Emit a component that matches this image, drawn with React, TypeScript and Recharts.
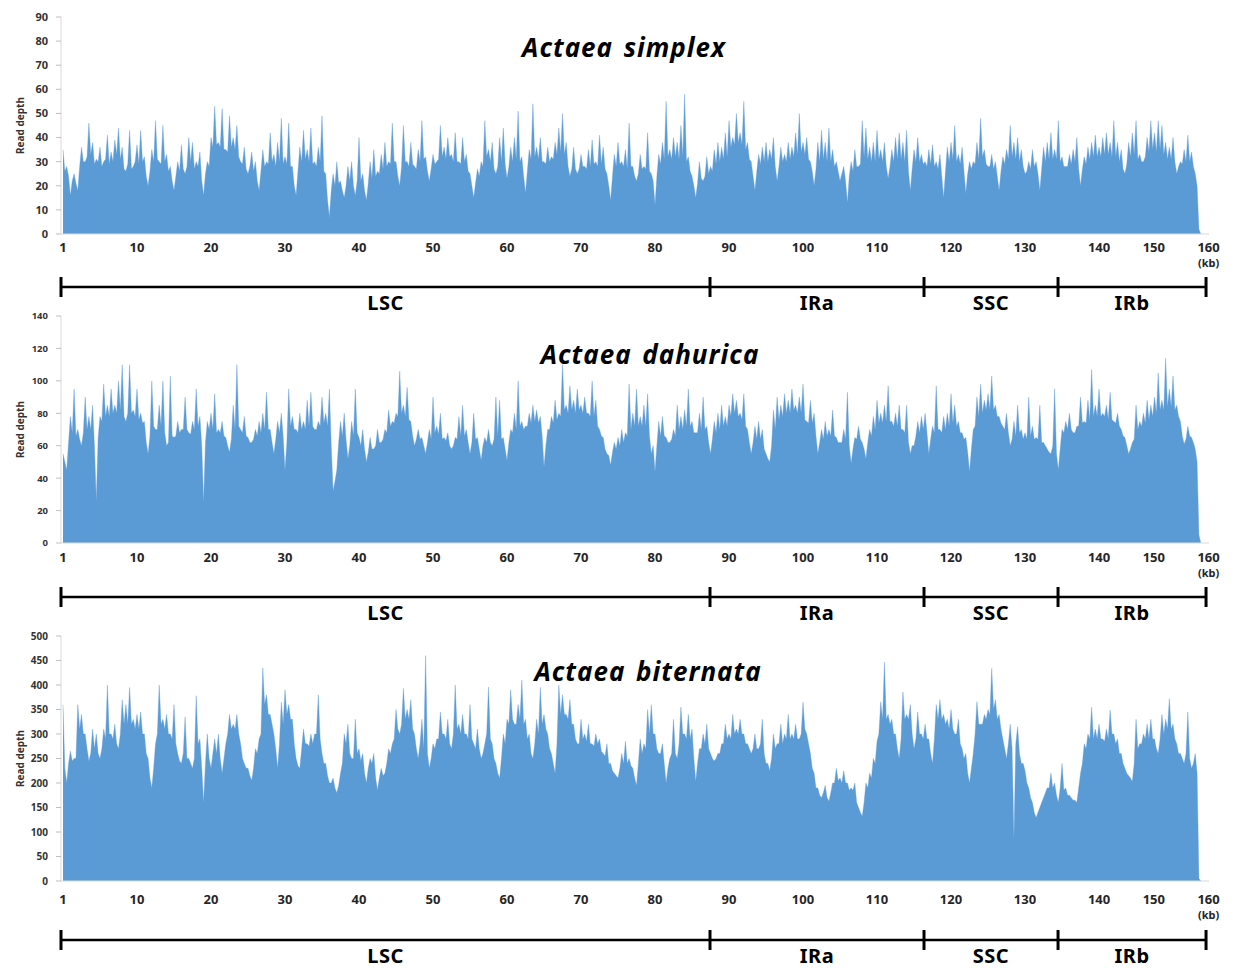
import React from "react";
import {
  AreaChart,
  Area,
  XAxis,
  YAxis,
  ComposedChart,
  Line,
  ReferenceLine,
  Scatter,
} from "recharts";

// ---- data: read depth every 0.25 axis unit ----
const STEP = 0.25;

const simplexDepth = [
  35, 26, 28, 24, 16, 22, 25, 21, 18, 28, 36, 30, 30, 32, 46, 33, 38, 29, 31, 30, 36, 28, 30, 31, 41, 29, 34, 30, 39, 33, 44, 31, 36, 27, 26, 29, 43, 27, 28, 30,
  37, 29, 43, 30, 32, 24, 20, 26, 35, 30, 47, 31, 30, 29, 45, 30, 33, 26, 28, 22, 18, 24, 30, 26, 37, 27, 25, 28, 40, 30, 38, 27, 30, 28, 34, 22, 16, 25, 30, 28,
  40, 36, 53, 37, 38, 36, 52, 35, 35, 34, 49, 36, 40, 35, 45, 32, 30, 29, 36, 27, 25, 28, 34, 26, 30, 22, 18, 26, 35, 28, 30, 29, 42, 30, 33, 28, 38, 30, 48, 29,
  32, 29, 46, 28, 28, 20, 16, 26, 36, 30, 43, 31, 35, 30, 44, 29, 30, 28, 36, 30, 49, 26, 25, 14, 7, 18, 25, 20, 30, 21, 22, 18, 15, 20, 28, 22, 30, 20, 16, 22,
  40, 22, 25, 18, 14, 21, 30, 23, 35, 24, 26, 25, 33, 27, 38, 28, 30, 29, 46, 30, 30, 24, 20, 28, 45, 30, 30, 28, 38, 29, 28, 27, 35, 30, 47, 31, 32, 26, 22, 27,
  33, 29, 30, 31, 45, 32, 36, 31, 40, 32, 33, 30, 42, 30, 30, 29, 40, 30, 33, 26, 25, 20, 15, 21, 27, 24, 30, 28, 47, 32, 35, 30, 38, 27, 25, 28, 40, 30, 44, 29,
  23, 28, 36, 30, 40, 31, 51, 30, 32, 24, 17, 26, 35, 31, 54, 32, 36, 31, 40, 30, 30, 29, 36, 30, 32, 31, 38, 33, 44, 34, 50, 33, 38, 28, 24, 27, 36, 27, 25, 27,
  33, 28, 28, 27, 35, 28, 39, 29, 30, 28, 41, 29, 36, 27, 25, 20, 14, 24, 33, 28, 38, 29, 30, 28, 35, 27, 46, 28, 28, 24, 22, 25, 33, 27, 28, 27, 42, 26, 25, 22,
  12, 24, 33, 29, 38, 31, 55, 32, 35, 31, 40, 32, 38, 31, 45, 32, 58, 30, 32, 26, 24, 20, 15, 21, 30, 23, 22, 24, 32, 25, 28, 26, 35, 29, 38, 30, 36, 31, 42, 32,
  47, 36, 40, 37, 50, 38, 42, 37, 55, 35, 38, 31, 30, 24, 18, 26, 33, 29, 36, 30, 38, 30, 35, 31, 40, 28, 22, 28, 36, 30, 33, 30, 38, 31, 36, 32, 42, 33, 50, 34,
  38, 33, 40, 31, 30, 26, 20, 27, 38, 30, 43, 31, 38, 30, 44, 30, 35, 28, 30, 26, 22, 25, 28, 22, 13, 24, 30, 26, 35, 28, 28, 29, 47, 32, 44, 31, 36, 30, 38, 30,
  43, 31, 35, 30, 38, 28, 23, 28, 35, 30, 40, 31, 42, 31, 38, 30, 43, 26, 18, 27, 35, 30, 40, 30, 33, 29, 30, 28, 35, 29, 37, 28, 30, 27, 33, 24, 15, 26, 36, 30,
  38, 31, 45, 30, 33, 29, 36, 26, 17, 25, 30, 27, 30, 29, 38, 31, 48, 32, 35, 29, 28, 28, 33, 27, 30, 24, 18, 26, 32, 29, 35, 31, 45, 32, 38, 31, 40, 30, 35, 28,
  25, 26, 30, 27, 35, 28, 30, 25, 18, 27, 36, 30, 38, 31, 42, 31, 35, 31, 47, 30, 32, 28, 28, 28, 33, 29, 35, 30, 40, 27, 20, 27, 32, 29, 36, 31, 38, 32, 41, 32,
  36, 32, 40, 33, 42, 33, 38, 32, 47, 32, 38, 30, 35, 27, 25, 29, 38, 32, 42, 33, 47, 31, 33, 30, 30, 32, 40, 34, 47, 35, 42, 34, 47, 35, 45, 33, 38, 31, 36, 31,
  40, 30, 25, 28, 30, 29, 35, 30, 41, 30, 34, 28, 25, 20, 2, 0,
];

const dahuricaDepth = [
  55, 50, 45, 62, 78, 68, 95, 66, 70, 64, 60, 68, 90, 70, 78, 70, 85, 60, 26, 65, 78, 75, 98, 78, 85, 78, 95, 80, 85, 80, 100, 82, 110, 78, 75, 80, 110, 80, 82, 78,
  95, 76, 80, 74, 75, 62, 55, 66, 100, 72, 70, 70, 85, 72, 100, 68, 60, 62, 103, 66, 65, 66, 75, 68, 70, 70, 90, 70, 68, 67, 75, 70, 95, 72, 78, 60, 25, 62, 75, 70,
  80, 70, 92, 68, 70, 68, 75, 66, 65, 60, 56, 64, 85, 70, 110, 72, 70, 68, 78, 66, 65, 62, 62, 64, 70, 66, 75, 68, 80, 70, 93, 70, 70, 62, 55, 64, 75, 68, 80, 66,
  45, 62, 95, 72, 78, 70, 70, 68, 80, 70, 75, 70, 88, 72, 93, 72, 70, 70, 75, 72, 90, 74, 80, 72, 95, 60, 32, 38, 45, 62, 75, 66, 80, 64, 52, 60, 75, 66, 95, 68,
  65, 60, 70, 58, 50, 56, 65, 58, 58, 60, 70, 62, 62, 64, 70, 68, 82, 72, 75, 74, 80, 78, 106, 80, 85, 78, 96, 76, 75, 66, 60, 64, 70, 64, 65, 60, 55, 62, 70, 64,
  90, 68, 72, 67, 80, 64, 65, 63, 68, 60, 58, 60, 65, 64, 78, 66, 85, 66, 70, 62, 55, 62, 80, 64, 65, 58, 51, 60, 65, 62, 70, 62, 60, 64, 90, 66, 88, 64, 65, 58,
  51, 62, 70, 68, 80, 70, 100, 72, 75, 70, 72, 72, 80, 74, 85, 75, 82, 74, 78, 66, 47, 60, 70, 70, 78, 74, 88, 76, 80, 78, 110, 82, 85, 80, 97, 82, 88, 80, 95, 82,
  85, 80, 90, 80, 80, 78, 100, 78, 88, 72, 70, 66, 65, 58, 55, 54, 48, 56, 62, 58, 65, 60, 70, 62, 68, 66, 98, 70, 80, 72, 95, 72, 78, 72, 85, 72, 92, 66, 55, 60,
  44, 60, 75, 66, 78, 66, 65, 62, 62, 64, 70, 66, 85, 70, 78, 70, 82, 72, 95, 72, 75, 68, 68, 68, 80, 70, 90, 70, 72, 62, 55, 64, 75, 68, 80, 70, 85, 72, 78, 72,
  85, 78, 92, 80, 88, 78, 80, 76, 92, 72, 70, 62, 55, 62, 72, 64, 75, 64, 70, 58, 55, 52, 50, 60, 82, 70, 90, 76, 85, 78, 92, 80, 88, 80, 95, 82, 85, 80, 90, 80,
  98, 76, 75, 74, 88, 74, 80, 66, 55, 62, 70, 64, 75, 66, 70, 66, 82, 66, 65, 62, 62, 62, 70, 64, 93, 60, 49, 58, 65, 64, 72, 64, 62, 58, 52, 62, 70, 66, 78, 70,
  88, 74, 80, 74, 85, 75, 97, 75, 75, 72, 80, 72, 85, 70, 70, 68, 85, 62, 55, 60, 60, 66, 75, 68, 78, 70, 80, 68, 55, 64, 72, 68, 97, 70, 70, 68, 78, 70, 80, 72,
  92, 74, 85, 72, 75, 68, 68, 64, 65, 56, 44, 58, 70, 72, 90, 78, 98, 80, 88, 82, 92, 82, 103, 82, 85, 78, 78, 74, 72, 70, 80, 68, 60, 64, 75, 66, 85, 68, 70, 64,
  68, 64, 90, 66, 72, 64, 65, 64, 85, 62, 62, 60, 58, 56, 55, 60, 95, 55, 45, 58, 70, 68, 75, 70, 80, 70, 68, 68, 72, 72, 90, 74, 75, 74, 88, 76, 107, 78, 85, 78,
  95, 78, 80, 78, 85, 76, 93, 76, 75, 74, 80, 72, 70, 66, 65, 60, 55, 58, 62, 64, 85, 70, 75, 72, 80, 74, 88, 76, 85, 78, 90, 80, 105, 82, 88, 82, 114, 84, 95, 84,
  103, 82, 85, 78, 75, 66, 61, 64, 72, 66, 65, 62, 58, 50, 5, 0,
];

const biternataDepth = [
  360, 230, 200, 240, 265, 245, 250, 250, 360, 310, 340, 300, 300, 270, 245, 260, 310, 270, 300, 260, 250, 270, 310, 290, 400, 300, 300, 290, 320, 280, 270, 300, 370, 320, 360, 320, 395, 320, 330, 310,
  340, 310, 345, 300, 300, 260, 250, 210, 190, 230, 280, 300, 400, 320, 330, 310, 340, 300, 300, 290, 360, 280, 260, 245, 240, 260, 335, 250, 250, 240, 230, 250, 378, 280, 290, 230, 160, 240, 300, 250,
  230, 260, 290, 260, 300, 250, 220, 250, 280, 300, 340, 310, 320, 310, 340, 300, 280, 250, 240, 230, 230, 215, 205, 230, 270, 260, 290, 300, 435, 360, 380, 340, 340, 320, 300, 270, 230, 280, 365, 320,
  390, 340, 360, 330, 330, 280, 250, 235, 230, 270, 310, 280, 280, 275, 300, 280, 300, 300, 380, 290, 260, 240, 240, 215, 200, 200, 210, 190, 180, 195, 220, 240, 300, 280, 320, 260, 250, 250, 330, 260,
  270, 245, 260, 220, 200, 230, 250, 240, 260, 210, 185, 210, 230, 215, 220, 240, 270, 260, 280, 290, 350, 310, 300, 320, 393, 330, 350, 330, 370, 310, 300, 270, 250, 280, 330, 270, 460, 260, 230, 250,
  280, 270, 290, 290, 345, 300, 300, 290, 330, 280, 270, 300, 400, 310, 320, 300, 340, 300, 300, 290, 360, 290, 280, 270, 310, 270, 250, 260, 280, 300, 396, 290, 280, 250, 240, 220, 210, 250, 300, 280,
  330, 320, 390, 330, 320, 320, 360, 330, 410, 320, 330, 290, 300, 260, 250, 280, 330, 300, 395, 320, 340, 310, 300, 270, 260, 240, 220, 280, 400, 340, 380, 340, 340, 330, 370, 320, 320, 290, 280, 280,
  330, 290, 300, 285, 320, 280, 280, 275, 300, 280, 290, 265, 260, 255, 280, 240, 240, 225, 220, 215, 210, 230, 260, 240, 285, 240, 250, 235, 230, 210, 195, 240, 290, 260, 280, 270, 350, 300, 360, 300,
  300, 270, 260, 260, 280, 240, 200, 230, 250, 260, 330, 260, 250, 280, 355, 300, 300, 290, 340, 290, 310, 250, 203, 240, 270, 270, 300, 280, 320, 270, 260, 250, 245, 250, 260, 260, 280, 280, 320, 290,
  300, 290, 340, 300, 310, 300, 330, 300, 300, 280, 280, 270, 260, 270, 300, 270, 270, 280, 330, 260, 240, 240, 225, 250, 300, 270, 280, 280, 320, 280, 300, 290, 340, 290, 300, 290, 320, 290, 290, 300,
  365, 310, 300, 280, 260, 230, 220, 190, 190, 175, 170, 180, 195, 170, 163, 180, 200, 200, 230, 205, 210, 200, 225, 200, 200, 185, 190, 185, 200, 160, 150, 140, 132, 160, 200, 190, 220, 210, 250, 240,
  285, 300, 366, 330, 447, 330, 340, 320, 330, 300, 300, 270, 250, 290, 386, 330, 340, 330, 360, 300, 270, 290, 345, 300, 300, 290, 320, 290, 290, 260, 240, 290, 360, 330, 370, 330, 340, 320, 330, 310,
  350, 310, 300, 300, 330, 280, 270, 250, 260, 220, 200, 230, 260, 300, 366, 320, 320, 320, 340, 330, 350, 340, 434, 350, 370, 330, 340, 310, 290, 270, 250, 280, 320, 270, 85, 280, 315, 260, 240, 240,
  225, 200, 190, 170, 160, 140, 129, 140, 150, 160, 170, 180, 190, 190, 220, 190, 200, 175, 160, 190, 240, 185, 190, 175, 175, 170, 165, 165, 160, 190, 220, 240, 280, 270, 300, 290, 355, 290, 310, 290,
  320, 290, 290, 285, 310, 290, 349, 300, 300, 280, 290, 260, 260, 240, 230, 220, 215, 210, 203, 240, 330, 270, 280, 280, 300, 290, 320, 290, 330, 290, 290, 270, 260, 290, 340, 300, 330, 310, 372, 310,
  320, 290, 280, 260, 260, 250, 240, 260, 345, 250, 230, 240, 260, 220, 5, 0,
];

const simplexTicks = [0, 10, 20, 30, 40, 50, 60, 70, 80, 90];
const dahuricaTicks = [0, 20, 40, 60, 80, 100, 120, 140];
const biternataTicks = [0, 50, 100, 150, 200, 250, 300, 350, 400, 450, 500];

// x tick positions (axis units) and their printed labels
const xTickPositions = [0, 10, 20, 30, 40, 50, 60, 70, 80, 90, 100, 110, 120, 130, 140, 147.4, 154.8];
const xTickLabels = ["1", "10", "20", "30", "40", "50", "60", "70", "80", "90", "100", "110", "120", "130", "140", "150", "160"];

// region boundaries (axis units) and names
const regionBounds = [-0.27, 87.43, 116.35, 134.46, 154.46];
const regionNames = ["LSC", "IRa", "SSC", "IRb"];

const X_DOMAIN: [number, number] = [-0.27, 154.86];
const FONT = "'Noto Sans', 'Open Sans', 'DejaVu Sans', sans-serif";
const BLUE = "#5B9BD5";
const W = 1233;
const RIGHT = 24;

type PanelCfg = {
  title: string;
  depth: number[];
  yMax: number;
  yTicks: number[];
  plotTop: number;
  plotBottom: number;
  yFont: number;
  xLabelOffset: number;
  kbOffset: number;
  titleX: number;
  titleY: number;
  regionY: number;
};

const panels: PanelCfg[] = [
  {
    title: "Actaea simplex",
    depth: simplexDepth,
    yMax: 90,
    yTicks: simplexTicks,
    plotTop: 17,
    plotBottom: 234,
    yFont: 11,
    xLabelOffset: 13,
    kbOffset: 15,
    titleX: 624,
    titleY: 47,
    regionY: 287,
  },
  {
    title: "Actaea dahurica",
    depth: dahuricaDepth,
    yMax: 140,
    yTicks: dahuricaTicks,
    plotTop: 316,
    plotBottom: 543,
    yFont: 9.5,
    xLabelOffset: 14,
    kbOffset: 15,
    titleX: 650,
    titleY: 354,
    regionY: 597,
  },
  {
    title: "Actaea biternata",
    depth: biternataDepth,
    yMax: 500,
    yTicks: biternataTicks,
    plotTop: 636,
    plotBottom: 881,
    yFont: 10,
    xLabelOffset: 18,
    kbOffset: 15,
    titleX: 648,
    titleY: 671,
    regionY: 940,
  },
];

function makeXTick(cfg: PanelCfg) {
  return (props: any) => {
    const { x, y, payload } = props;
    const idx = xTickPositions.indexOf(payload.value);
    const label = idx >= 0 ? xTickLabels[idx] : String(payload.value);
    return (
      <g>
        <text
          x={x}
          y={y + cfg.xLabelOffset}
          textAnchor="middle"
          dominantBaseline="central"
          fontFamily={FONT}
          fontSize={13}
          fontWeight={700}
          fill="#262626"
        >
          {label}
        </text>
        {idx === xTickLabels.length - 1 ? (
          <text
            x={x}
            y={y + cfg.xLabelOffset + cfg.kbOffset}
            textAnchor="middle"
            dominantBaseline="central"
            fontFamily={FONT}
            fontSize={11}
            fontWeight={700}
            fill="#262626"
          >
            (kb)
          </text>
        ) : null}
      </g>
    );
  };
}

function Panel({ cfg }: { cfg: PanelCfg }) {
  const rows = cfg.depth.map((v, i) => ({ u: i * STEP, v }));
  const chartTop = cfg.plotTop - 10;
  const axisH = 44;
  const height = cfg.plotBottom - chartTop + axisH;
  // region bar drawn in a 40px-tall helper chart whose y units are pixels from its bottom
  const regionLine = regionBounds.map((b) => ({ u: b, y: 30 }));
  const regionLabels = regionNames.map((n, i) => ({
    u: (regionBounds[i] + regionBounds[i + 1]) / 2,
    y: 15,
    name: n,
  }));
  return (
    <>
      <div style={{ position: "absolute", left: 0, top: chartTop }}>
        <AreaChart
          width={W}
          height={height}
          data={rows}
          margin={{ top: 10, right: RIGHT, bottom: 0, left: 0 }}
        >
          <XAxis
            type="number"
            dataKey="u"
            domain={X_DOMAIN}
            allowDataOverflow
            ticks={xTickPositions}
            interval={0}
            tick={makeXTick(cfg)}
            tickLine={false}
            tickSize={0}
            tickMargin={0}
            axisLine={{ stroke: "#d9d9d9" }}
            height={axisH}
          />
          <YAxis
            type="number"
            domain={[0, cfg.yMax]}
            allowDataOverflow
            ticks={cfg.yTicks}
            interval={0}
            width={61}
            tickSize={5}
            tickMargin={8}
            tickLine={{ stroke: "#bfbfbf" }}
            axisLine={{ stroke: "#d9d9d9" }}
            tick={{ fontSize: cfg.yFont, fontWeight: 700, fill: "#333", fontFamily: FONT }}
            label={{
              value: "Read depth",
              angle: -90,
              position: "insideLeft",
              offset: 20,
              style: {
                textAnchor: "middle",
                fontSize: 10,
                fontWeight: 700,
                fill: "#333",
                fontFamily: FONT,
              },
            }}
          />
          <Area
            type="linear"
            dataKey="v"
            stroke={BLUE}
            strokeWidth={0.5}
            strokeOpacity={0.7}
            fill={BLUE}
            fillOpacity={1}
            dot={false}
            activeDot={false}
            isAnimationActive={false}
          />
        </AreaChart>
      </div>
      <div
        style={{
          position: "absolute",
          left: cfg.titleX,
          top: cfg.titleY - 18,
          transform: "translateX(-50%)",
          whiteSpace: "nowrap",
          fontFamily: FONT,
          fontSize: 26,
          lineHeight: "36px",
          letterSpacing: "1px",
          wordSpacing: "3px",
          fontWeight: 700,
          fontStyle: "italic",
          color: "#000",
        }}
      >
        {cfg.title}
      </div>
      <div style={{ position: "absolute", left: 0, top: cfg.regionY - 10 }}>
        <ComposedChart
          width={W}
          height={40}
          margin={{ top: 0, right: RIGHT, bottom: 0, left: 61 }}
        >
          <XAxis type="number" dataKey="u" domain={X_DOMAIN} allowDataOverflow hide />
          <YAxis type="number" domain={[0, 40]} allowDataOverflow hide width={0} />
          <Line
            data={regionLine}
            dataKey="y"
            stroke="#000"
            strokeWidth={2.5}
            dot={false}
            activeDot={false}
            isAnimationActive={false}
          />
          {regionBounds.map((b) => (
            <ReferenceLine
              key={b}
              segment={[
                { x: b, y: 20 },
                { x: b, y: 40 },
              ]}
              stroke="#000"
              strokeWidth={3}
            />
          ))}
          <Scatter
            data={regionLabels}
            dataKey="y"
            isAnimationActive={false}
            shape={(p: any) => (
              <text
                x={p.cx}
                y={p.cy}
                textAnchor="middle"
                dominantBaseline="central"
                fontFamily={FONT}
                fontSize={20}
                fontWeight={700}
                letterSpacing={0.5}
                fill="#000"
              >
                {p.payload.name}
              </text>
            )}
          />
        </ComposedChart>
      </div>
    </>
  );
}

export default function App() {
  return (
    <div
      style={{
        position: "absolute",
        left: 0,
        top: 0,
        width: W,
        height: 968,
        background: "#fff",
        overflow: "hidden",
      }}
    >
      {panels.map((cfg) => (
        <Panel key={cfg.title} cfg={cfg} />
      ))}
    </div>
  );
}
